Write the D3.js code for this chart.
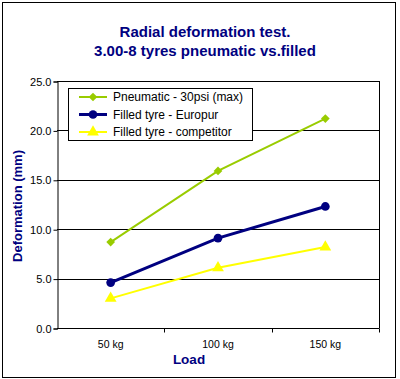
<!DOCTYPE html>
<html><head><meta charset="utf-8">
<script src="https://cdn.jsdelivr.net/npm/d3@7"></script>
<style>body{margin:0;background:#fff}svg{display:block;font-family:Arial,"Liberation Sans",sans-serif}</style>
</head><body><svg id="c" width="400" height="379"></svg>
<script>
const categories = ["50 kg", "100 kg", "150 kg"];
const pneumatic = [8.7, 15.9, 21.2];
const europur = [4.6, 9.1, 12.3];
const competitor = [3.0, 6.1, 8.2];
const seriesNames = ["Pneumatic - 30psi (max)", "Filled tyre - Europur", "Filled tyre - competitor"];
const yTicks = [0, 5, 10, 15, 20, 25];

const series = [
  {name: seriesNames[0], values: pneumatic, color: "#99CC00", w: 2, sym: d3.symbolSquare, size: 38, rot: 45},
  {name: seriesNames[1], values: europur, color: "#000080", w: 3, sym: d3.symbolCircle, size: 60, rot: 0},
  {name: seriesNames[2], values: competitor, color: "#FFFF00", w: 2, sym: d3.symbolTriangle, size: 60, rot: 0}
];

const svg = d3.select("#c");
svg.append("rect").attr("x", 2.5).attr("y", 2.5).attr("width", 393).attr("height", 375)
  .attr("fill", "#fff").attr("stroke", "#000").attr("stroke-width", 1);

const L = 57, R = 379, T = 81, B = 328;
const x = d3.scaleBand().domain(categories).range([L, R]);
const y = d3.scaleLinear().domain([0, 25]).range([B, T]);

// title
const title = svg.append("text").attr("text-anchor", "middle").attr("fill", "#000080")
  .attr("font-weight", "bold").attr("font-size", 15);
title.append("tspan").attr("x", 205).attr("y", 37).text("Radial deformation test.");
title.append("tspan").attr("x", 205).attr("y", 56).text("3.00-8 tyres pneumatic vs.filled");

// gridlines
svg.append("g").selectAll("line").data(yTicks.filter(d => d > 0)).join("line")
  .attr("x1", L).attr("x2", R).attr("y1", d => Math.round(y(d)) + 0.5).attr("y2", d => Math.round(y(d)) + 0.5)
  .attr("stroke", "#000").attr("stroke-width", 1);
// right border
svg.append("line").attr("x1", R + 0.5).attr("x2", R + 0.5).attr("y1", T).attr("y2", B).attr("stroke", "#000");

// y axis
const yAxis = d3.axisLeft(y).tickValues(yTicks).tickFormat(d3.format(".1f")).tickSize(4).tickPadding(2);
const gy = svg.append("g").attr("transform", `translate(${L + 0.5},0.5)`).call(yAxis);
gy.selectAll("text").attr("font-size", 11).attr("font-family", "Arial,'Liberation Sans',sans-serif").attr("fill", "#000");
gy.select(".domain").attr("stroke", "#000");

// x axis
const xAxis = d3.axisBottom(x).tickSize(0).tickPadding(12);
const gx = svg.append("g").attr("transform", `translate(0,${B + 0.5})`).call(xAxis);
gx.selectAll("text").attr("font-size", 10.5).attr("font-family", "Arial,'Liberation Sans',sans-serif").attr("fill", "#000");
gx.select(".domain").attr("d", `M${L},0H${R + 0.5}`).attr("stroke", "#000");
gx.append("g").selectAll("line").data(categories).join("line")
  .attr("x1", d => Math.round(x(d) + x.bandwidth()) + 0.5).attr("x2", d => Math.round(x(d) + x.bandwidth()) + 0.5)
  .attr("y1", 0).attr("y2", 4).attr("stroke", "#000");

// axis titles
svg.append("text").attr("transform", "translate(22,206) rotate(-90)").attr("text-anchor", "middle")
  .attr("fill", "#000080").attr("font-weight", "bold").attr("font-size", 13).text("Deformation (mm)");
svg.append("text").attr("x", 189).attr("y", 364).attr("text-anchor", "middle")
  .attr("fill", "#000080").attr("font-weight", "bold").attr("font-size", 13.5).text("Load");

// series
const cx = (d, i) => x(categories[i]) + x.bandwidth() / 2;
const line = d3.line().x((d, i) => cx(d, i)).y(d => y(d));
series.forEach(s => {
  svg.append("path").datum(s.values).attr("d", line).attr("fill", "none")
    .attr("stroke", s.color).attr("stroke-width", s.w);
  svg.append("g").selectAll("path").data(s.values).join("path")
    .attr("d", d3.symbol().type(s.sym).size(s.size))
    .attr("transform", (d, i) => `translate(${cx(d, i)},${y(d)}) rotate(${s.rot})`)
    .attr("fill", s.color);
});

// legend
const lg = svg.append("g");
lg.append("rect").attr("x", 68.5).attr("y", 88.5).attr("width", 184).attr("height", 52)
  .attr("fill", "#fff").attr("stroke", "#000");
series.forEach((s, i) => {
  const yy = 97 + i * 17.5;
  lg.append("line").attr("x1", 79).attr("x2", 107).attr("y1", yy).attr("y2", yy)
    .attr("stroke", s.color).attr("stroke-width", s.w);
  lg.append("path").attr("d", d3.symbol().type(s.sym).size(s.size)).attr("transform", `translate(93,${yy}) rotate(${s.rot})`).attr("fill", s.color);
  lg.append("text").attr("x", 113).attr("y", yy + 4).attr("font-size", 12).attr("fill", "#000").text(s.name);
});
</script></body></html>
